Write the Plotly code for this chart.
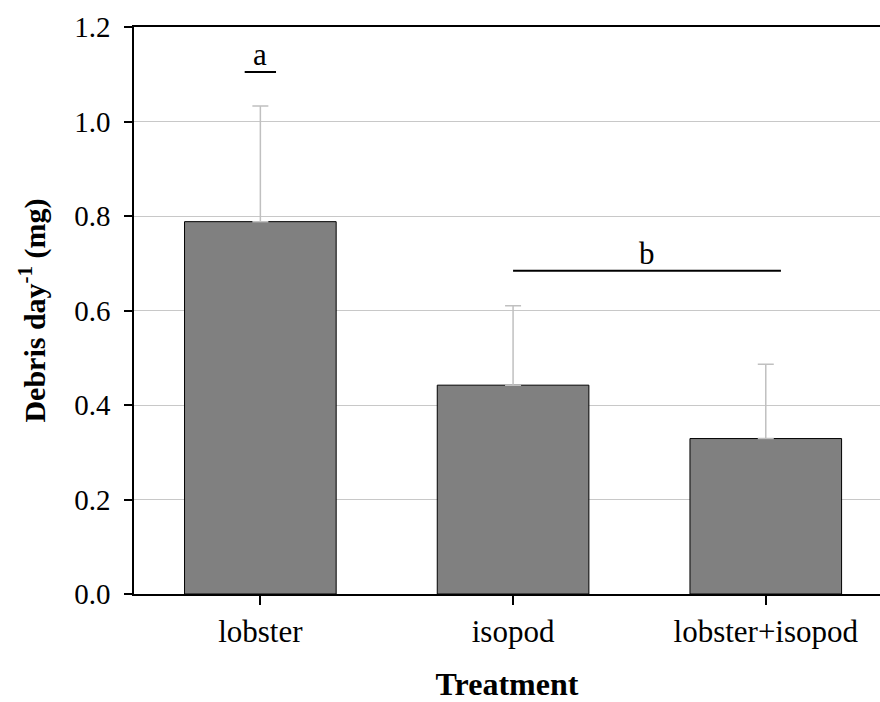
import plotly.graph_objects as go

# Mean daily debris production per treatment, with upper standard error
treatments = ["lobster", "isopod", "lobster+isopod"]
debris_mean = [0.788, 0.442, 0.329]
debris_se = [0.245, 0.168, 0.157]

# Post-hoc grouping letters: (letter, first category index, last category index, level)
groups = [("a", 0, 0, 1.105), ("b", 1, 2.06, 0.684)]

y_ticks = [0.0, 0.2, 0.4, 0.6, 0.8, 1.0, 1.2]

FONT = "Liberation Serif"

fig = go.Figure()
fig.add_trace(go.Bar(
    x=list(range(len(treatments))),
    y=debris_mean,
    width=0.6,
    marker=dict(color="#808080", line=dict(color="#000000", width=1)),
    error_y=dict(type="data", symmetric=False, array=debris_se,
                 arrayminus=[0] * len(debris_se),
                 color="#c0c0c0", thickness=1.5, width=8),
    showlegend=False,
))

shapes = []
annotations = []
for letter, i0, i1, level in groups:
    if i0 == i1:
        x0, x1 = i0 - 0.062, i0 + 0.062
    else:
        x0, x1 = i0, i1
    shapes.append(dict(type="line", xref="x", yref="y", x0=x0, x1=x1,
                       y0=level, y1=level, line=dict(color="#000000", width=2)))
    annotations.append(dict(x=(x0 + x1) / 2, y=level, xref="x", yref="y",
                            text=letter, showarrow=False, yanchor="bottom",
                            yshift=-2, font=dict(family=FONT, size=31, color="#000000")))

fig.update_layout(
    width=880, height=702,
    margin=dict(l=134, r=0, t=27, b=108),
    paper_bgcolor="white", plot_bgcolor="white",
    font=dict(family=FONT, color="#000000"),
    bargap=0.4,
    shapes=shapes,
    annotations=annotations,
    xaxis=dict(
        range=[-0.5, 2.452],
        tickmode="array", tickvals=list(range(len(treatments))), ticktext=treatments,
        ticks="outside", ticklen=9, tickwidth=1.5, tickcolor="#000000",
        showline=True, linecolor="#000000", linewidth=2, mirror=True,
        showgrid=False, zeroline=False,
        tickfont=dict(family=FONT, size=31),
        title=dict(text="<b>Treatment</b>", font=dict(family=FONT, size=32), standoff=27),
    ),
    yaxis=dict(
        range=[0, 1.2],
        tickmode="array", tickvals=y_ticks, ticktext=[f"{v:.1f}" for v in y_ticks],
        ticks="outside", ticklen=8, tickwidth=1.5, tickcolor="#000000",
        showline=True, linecolor="#000000", linewidth=1.5,
        showgrid=True, gridcolor="#c8c8c8", gridwidth=1, zeroline=False,
        tickfont=dict(family=FONT, size=29),
        ticklabelstandoff=8,
        title=dict(text="<b>Debris day<sup>-1</sup> (mg)</b>", font=dict(family=FONT, size=30), standoff=20),
    ),
)

fig.write_html("out.html")
